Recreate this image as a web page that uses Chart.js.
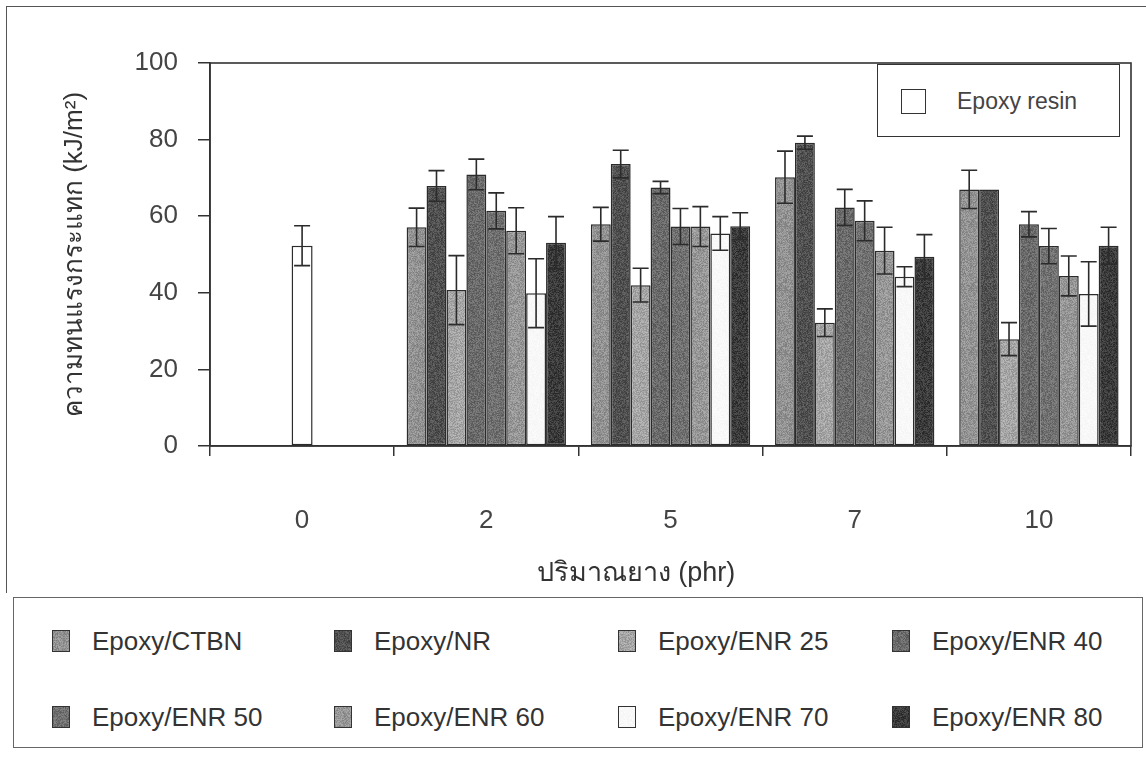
<!DOCTYPE html>
<html>
<head>
<meta charset="utf-8">
<script src="https://cdn.jsdelivr.net/npm/chart.js@4/dist/chart.umd.min.js"></script>
<style>
  html, body { margin: 0; padding: 0; background: #fff; }
  #page { position: relative; width: 1146px; height: 758px; overflow: hidden; font-family: "Liberation Sans", Arial, sans-serif; color: #3a3a3a; }
  #frame { position: absolute; left: 6px; top: 6px; width: 1150px; height: 586px; border-left: 1.5px solid #555; border-top: 1.5px solid #555; }
  #chartBox { position: absolute; left: 0; top: 0; width: 1146px; height: 590px; }
  #xTitle { position: absolute; left: 436px; width: 400px; top: 555px; text-align: center; font-size: 27px; line-height: 34px; color: #333; white-space: nowrap; }
  #resinKey { position: absolute; left: 877px; top: 64px; width: 241px; height: 71px; border: 1.5px solid #333; background: #fff; }
  #resinKey .sw { position: absolute; left: 23px; top: 24px; width: 23px; height: 23px; border: 1.5px solid #333; background: #fff; }
  #resinKey .tx { position: absolute; left: 79px; top: 22px; font-size: 23px; line-height: 28px; color: #444; white-space: nowrap; }
  #legend { position: absolute; left: 13px; top: 597px; width: 1128px; height: 149px; border: 1.5px solid #666; }
  .item { position: absolute; height: 30px; }
  .item .sw { position: absolute; left: 0; top: 4px; width: 16px; height: 20px; border: 1.5px solid #333; }
  .item .tx { position: absolute; left: 40px; top: 0; font-size: 26px; line-height: 30px; white-space: nowrap; color: #333; }
</style>
</head>
<body>
<div id="page">
  <div id="frame"></div>
  <div id="chartBox"><canvas id="chart"></canvas></div>
  <div id="xTitle">ปริมาณยาง (phr)</div>
  <div id="resinKey"><div class="sw"></div><div class="tx">Epoxy resin</div></div>
  <div id="legend"></div>
</div>
<script>
// Rubber content (phr) on the category axis
const categories = ['0', '2', '5', '7', '10'];
const yTicks = [0, 20, 40, 60, 80, 100];

// Impact strength means (kJ/m²) per blend, one value per rubber content
const epoxyResin = [52.3, null, null, null, null];
const epoxyCTBN  = [null, 57.1, 57.9, 70.2, 67.0];
const epoxyNR    = [null, 67.9, 73.6, 79.2, 67.0];
const epoxyENR25 = [null, 40.7, 42.0, 32.2, 27.9];
const epoxyENR40 = [null, 70.9, 67.5, 62.3, 57.9];
const epoxyENR50 = [null, 61.4, 57.3, 58.8, 52.2];
const epoxyENR60 = [null, 56.2, 57.3, 51.0, 44.4];
const epoxyENR70 = [null, 39.9, 55.5, 44.2, 39.7];
const epoxyENR80 = [null, 53.1, 57.4, 49.4, 52.3];

// Standard deviations drawn as error bars
const errResin = [5.2, 0, 0, 0, 0];
const errCTBN  = [0, 5.0, 4.4, 6.8, 5.0];
const errNR    = [0, 4.0, 3.6, 1.7, 0];
const errENR25 = [0, 9.0, 4.4, 3.6, 4.3];
const errENR40 = [0, 4.0, 1.6, 4.7, 3.3];
const errENR50 = [0, 4.7, 4.7, 5.2, 4.6];
const errENR60 = [0, 6.0, 5.2, 6.1, 5.2];
const errENR70 = [0, 9.0, 4.4, 2.6, 8.4];
const errENR80 = [0, 6.8, 3.5, 5.8, 4.8];

const seriesNames = ['Epoxy/CTBN', 'Epoxy/NR', 'Epoxy/ENR 25', 'Epoxy/ENR 40',
                     'Epoxy/ENR 50', 'Epoxy/ENR 60', 'Epoxy/ENR 70', 'Epoxy/ENR 80'];
const seriesGrays = [146, 80, 165, 106, 112, 150, 248, 58];

// Fine grain fill, like a printed halftone, built from a deterministic hash
function grainCanvas(level, amp) {
  const size = 64;
  const cv = document.createElement('canvas');
  cv.width = size; cv.height = size;
  const g = cv.getContext('2d');
  const img = g.createImageData(size, size);
  let s = 12345 + level * 7;
  for (let i = 0; i < size * size; i++) {
    s = (s * 1103515245 + 12345) >>> 0;
    const n = ((s >>> 16) & 255) / 255 - 0.5;
    const v = Math.max(0, Math.min(255, Math.round(level + n * amp)));
    img.data[i * 4] = v; img.data[i * 4 + 1] = v; img.data[i * 4 + 2] = v; img.data[i * 4 + 3] = 255;
  }
  g.putImageData(img, 0, 0);
  return cv;
}

const seriesValues = [epoxyCTBN, epoxyNR, epoxyENR25, epoxyENR40, epoxyENR50, epoxyENR60, epoxyENR70, epoxyENR80];
const seriesErrors = [errCTBN, errNR, errENR25, errENR40, errENR50, errENR60, errENR70, errENR80];

const probe = document.createElement('canvas').getContext('2d');
const grainTiles = seriesGrays.map(v => grainCanvas(v, v > 240 ? 8 : 46));

const datasets = seriesNames.map((name, i) => ({
  label: name,
  data: seriesValues[i],
  errors: seriesErrors[i],
  backgroundColor: probe.createPattern(grainTiles[i], 'repeat'),
  borderColor: '#2b2b2b',
  borderWidth: 1.5,
  borderSkipped: false
}));
datasets.push({
  label: 'Epoxy resin',
  data: epoxyResin,
  errors: errResin,
  backgroundColor: '#ffffff',
  borderColor: '#2b2b2b',
  borderWidth: 1.5,
  borderSkipped: false,
  maxBarThickness: 21
});

// Error bars with caps, placed through the value scale
const errorBars = {
  id: 'errorBars',
  afterDatasetsDraw(chart) {
    const ctx = chart.ctx;
    const y = chart.scales.y;
    ctx.save();
    ctx.strokeStyle = '#2b2b2b';
    ctx.lineWidth = 1.6;
    chart.data.datasets.forEach((ds, di) => {
      const meta = chart.getDatasetMeta(di);
      meta.data.forEach((bar, i) => {
        const v = ds.data[i];
        const e = ds.errors ? ds.errors[i] : 0;
        if (v == null || !e) return;
        const top = y.getPixelForValue(v + e);
        const bot = y.getPixelForValue(v - e);
        const cap = 8;
        ctx.beginPath();
        ctx.moveTo(bar.x, top); ctx.lineTo(bar.x, bot);
        ctx.moveTo(bar.x - cap, top); ctx.lineTo(bar.x + cap, top);
        ctx.moveTo(bar.x - cap, bot); ctx.lineTo(bar.x + cap, bot);
        ctx.stroke();
      });
    });
    ctx.restore();
  }
};

// Box around the plotting area
const plotFrame = {
  id: 'plotFrame',
  afterDraw(chart) {
    const a = chart.chartArea;
    const ctx = chart.ctx;
    ctx.save();
    ctx.strokeStyle = '#333';
    ctx.lineWidth = 1.6;
    ctx.strokeRect(a.left, a.top, a.right - a.left, a.bottom - a.top);
    ctx.restore();
  }
};

const chart = new Chart(document.getElementById('chart'), {
  type: 'bar',
  data: { labels: categories, datasets },
  options: {
    responsive: true,
    maintainAspectRatio: false,
    animation: false,
    skipNull: true,
    categoryPercentage: 0.865,
    barPercentage: 1.0,
    layout: { padding: { top: 63, right: 15, left: 0, bottom: 0 } },
    plugins: { legend: { display: false }, tooltip: { enabled: false } },
    scales: {
      x: {
        grid: { offset: true, drawOnChartArea: false, drawTicks: true, tickLength: 10, color: '#333', lineWidth: 1.5 },
        border: { color: '#333', width: 1.6 },
        ticks: { color: '#444', font: { family: 'Liberation Sans', size: 26 }, padding: 49 },
        afterFit(scale) { scale.height = 144; }
      },
      y: {
        min: 0, max: 100,
        afterBuildTicks(scale) { scale.ticks = yTicks.map(v => ({ value: v })); },
        grid: { drawOnChartArea: false, drawTicks: true, tickLength: 12, color: '#333', lineWidth: 1.5 },
        border: { color: '#333', width: 1.6 },
        ticks: { color: '#444', font: { family: 'Liberation Sans', size: 26 }, padding: 20 },
        title: { display: true, text: 'ความทนแรงกระแทก (kJ/m²)', color: '#333',
                 font: { family: 'Liberation Sans', size: 26 }, padding: { top: 59, bottom: 0 } },
        afterFit(scale) { scale.width = 210; }
      }
    }
  },
  plugins: [errorBars, plotFrame]
});

// Series key in the bottom box, four per row
const legend = document.getElementById('legend');
const colX = [38, 320, 604, 878];
const rowY = [28, 104];
seriesNames.forEach((name, i) => {
  const it = document.createElement('div');
  it.className = 'item';
  it.style.left = colX[i % 4] + 'px';
  it.style.top = rowY[Math.floor(i / 4)] + 'px';
  const sw = document.createElement('div');
  sw.className = 'sw';
  sw.style.backgroundImage = 'url(' + grainTiles[i].toDataURL() + ')';
  const tx = document.createElement('div');
  tx.className = 'tx';
  tx.textContent = name;
  it.appendChild(sw); it.appendChild(tx);
  legend.appendChild(it);
});
</script>
</body>
</html>
